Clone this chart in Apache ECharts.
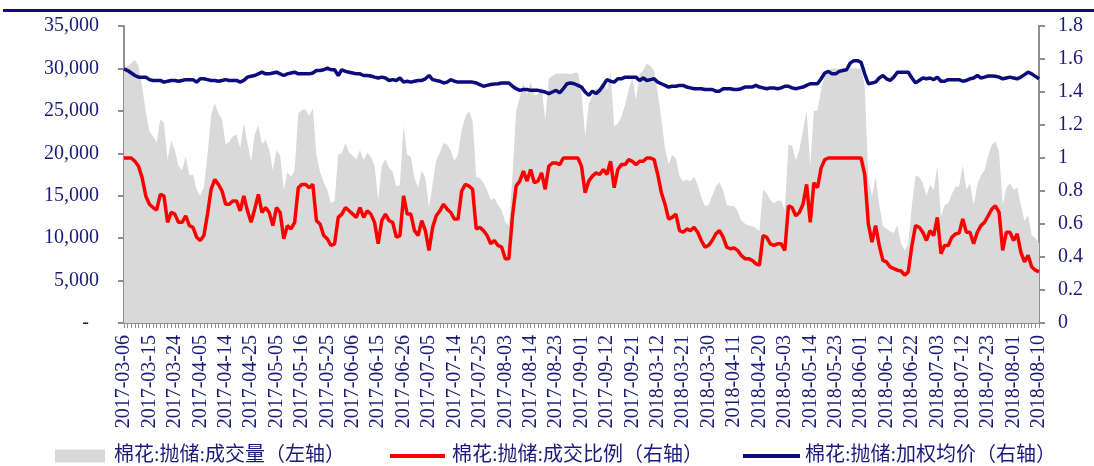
<!DOCTYPE html>
<html lang="zh">
<head>
<meta charset="UTF-8">
<title>棉花抛储</title>
<script src="https://cdn.jsdelivr.net/npm/echarts@6/dist/echarts.min.js"></script>
<style>
html, body { margin: 0; padding: 0; background: #fff; }
#main { width: 1094px; height: 466px; }
</style>
</head>
<body>
<div id="main"></div>
<script>
// 坐标轴上显示的日期（每7个交易日一个）
var tickDates = [
    '2017-03-06', '2017-03-15', '2017-03-24', '2017-04-05', '2017-04-14', '2017-04-25',
    '2017-05-05', '2017-05-16', '2017-05-25', '2017-06-06', '2017-06-15', '2017-06-26',
    '2017-07-05', '2017-07-14', '2017-07-25', '2017-08-03', '2017-08-14', '2017-08-23',
    '2017-09-01', '2017-09-12', '2017-09-21', '2018-03-12', '2018-03-21', '2018-03-30',
    '2018-04-11', '2018-04-20', '2018-05-03', '2018-05-14', '2018-05-23', '2018-06-01',
    '2018-06-12', '2018-06-22', '2018-07-03', '2018-07-12', '2018-07-23', '2018-08-01',
    '2018-08-10'
];

// 成交量（吨，左轴）
var volume = [
    30000, 30300, 30600, 31000, 30300, 27900, 24900, 22600, 22000, 21300,
    24000, 23600, 19200, 21500, 20400, 18500, 18000, 19600, 17400, 17500,
    15700, 15000, 16000, 19800, 24500, 25900, 24700, 24000, 21000, 21400,
    22000, 22200, 20600, 23600, 21200, 19000, 22200, 23300, 21100, 21600,
    20400, 18000, 20400, 19700, 15700, 17800, 17200, 18000, 24700, 25100,
    25200, 24400, 25300, 19800, 17800, 16600, 15700, 14100, 14400, 19800,
    20000, 21200, 20100, 19700, 19300, 20400, 19200, 20100, 19600, 18600,
    14500, 18500, 19300, 18300, 17800, 16100, 16300, 23300, 19800, 19600,
    17100, 15900, 18000, 17100, 13600, 16400, 19200, 20100, 21200, 21000,
    20300, 19100, 19900, 22700, 24300, 25000, 23800, 17200, 17100, 16500,
    15600, 14500, 14700, 13900, 13300, 11900, 11500, 17400, 24900, 26600,
    28300, 26900, 28400, 26800, 27000, 27900, 23900, 28800, 29100, 29400,
    29400, 29400, 29400, 29300, 29500, 29500, 27200, 22000, 25800, 26800,
    27700, 27500, 28600, 27500, 29600, 23200, 23500, 24300, 25700, 27500,
    28900, 26300, 29300, 29800, 30600, 30300, 29700, 27100, 24000, 20600,
    18700, 19800, 19400, 17300, 16700, 16900, 16700, 17200, 16300, 14800,
    13800, 13900, 15000, 16100, 16600, 15600, 13900, 13800, 13800, 13200,
    12100, 11700, 11500, 11400, 11200, 10800, 15700, 15300, 14500, 14100,
    14400, 14400, 13300, 21000, 20900, 19200, 20400, 22700, 25100, 18500,
    25000, 25000, 27500, 29100, 29800, 30000, 30000, 30000, 30000, 30000,
    30000, 30000, 30000, 30000, 28000, 17000, 14900, 17300, 13900, 11400,
    11100, 10800, 10600, 11500, 9400, 8500, 9300, 13900, 17400, 17200,
    16500, 15000, 16300, 15700, 18500, 12500, 13900, 14100, 15200, 16100,
    16100, 18600, 15700, 16500, 13900, 16300, 17400, 18000, 19700, 21000,
    21400, 20200, 13900, 15900, 16500, 15700, 16000, 13900, 12000, 12700,
    10300, 10000, 9400
];

// 成交比例（右轴）
var ratio = [
    1.0, 1.0, 1.0, 0.98, 0.95, 0.88, 0.77, 0.72, 0.70, 0.685,
    0.78, 0.77, 0.61, 0.67, 0.66, 0.61, 0.61, 0.65, 0.59, 0.58,
    0.52, 0.50, 0.53, 0.66, 0.81, 0.87, 0.84, 0.80, 0.72, 0.72,
    0.74, 0.74, 0.68, 0.77, 0.68, 0.61, 0.69, 0.78, 0.67, 0.70,
    0.67, 0.59, 0.70, 0.67, 0.51, 0.59, 0.57, 0.61, 0.82, 0.84,
    0.84, 0.82, 0.84, 0.62, 0.60, 0.53, 0.51, 0.47, 0.48, 0.64,
    0.66, 0.70, 0.68, 0.66, 0.64, 0.70, 0.64, 0.68, 0.66, 0.61,
    0.48, 0.62, 0.66, 0.62, 0.61, 0.52, 0.53, 0.77, 0.66, 0.66,
    0.56, 0.53, 0.62, 0.56, 0.44, 0.58, 0.65, 0.68, 0.72, 0.69,
    0.67, 0.63, 0.63, 0.80, 0.84, 0.83, 0.81, 0.57, 0.58, 0.56,
    0.53, 0.48, 0.50, 0.47, 0.46, 0.39, 0.39, 0.65, 0.83, 0.86,
    0.92, 0.86, 0.93, 0.85, 0.86, 0.91, 0.81, 0.95, 0.97, 0.97,
    0.96, 1.0, 1.0, 1.0, 1.0, 1.0, 0.95, 0.79, 0.86, 0.89,
    0.91, 0.90, 0.93, 0.90, 0.98, 0.82, 0.93, 0.96, 0.96, 0.99,
    0.98, 0.96, 0.98, 0.98, 1.0, 1.0, 0.99, 0.90, 0.79, 0.72,
    0.63, 0.64, 0.66, 0.56, 0.55, 0.57, 0.56, 0.58, 0.55, 0.50,
    0.46, 0.47, 0.50, 0.54, 0.56, 0.52, 0.46, 0.45, 0.455, 0.44,
    0.41, 0.39, 0.39, 0.38, 0.36, 0.35, 0.53, 0.52, 0.48, 0.47,
    0.48, 0.48, 0.44, 0.71, 0.70, 0.65, 0.67, 0.72, 0.84, 0.61,
    0.85, 0.82, 0.94, 0.99, 1.0, 1.0, 1.0, 1.0, 1.0, 1.0,
    1.0, 1.0, 1.0, 1.0, 0.90, 0.60, 0.49, 0.59, 0.47, 0.38,
    0.37, 0.34, 0.33, 0.32, 0.315, 0.29, 0.31, 0.47, 0.59, 0.58,
    0.55, 0.50, 0.56, 0.53, 0.64, 0.42, 0.47, 0.47, 0.52, 0.54,
    0.545, 0.63, 0.55, 0.55, 0.48, 0.55, 0.59, 0.61, 0.65, 0.69,
    0.71, 0.67, 0.44, 0.55, 0.55, 0.50, 0.54, 0.43, 0.37, 0.41,
    0.34, 0.32, 0.31
];

// 加权均价（万元/吨，右轴）
var price = [
    1.54, 1.53, 1.515, 1.50, 1.49, 1.49, 1.49, 1.475, 1.47, 1.47,
    1.47, 1.46, 1.465, 1.47, 1.47, 1.465, 1.47, 1.475, 1.475, 1.475,
    1.46, 1.48, 1.48, 1.475, 1.47, 1.47, 1.465, 1.47, 1.475, 1.47,
    1.47, 1.47, 1.46, 1.47, 1.49, 1.495, 1.50, 1.51, 1.52, 1.51,
    1.51, 1.515, 1.52, 1.51, 1.50, 1.51, 1.515, 1.52, 1.51, 1.51,
    1.51, 1.51, 1.515, 1.53, 1.53, 1.535, 1.545, 1.535, 1.535, 1.50,
    1.535, 1.525, 1.52, 1.515, 1.51, 1.51, 1.50, 1.50, 1.497, 1.49,
    1.485, 1.49, 1.485, 1.47, 1.475, 1.47, 1.485, 1.46, 1.465, 1.46,
    1.465, 1.47, 1.47, 1.48, 1.50, 1.475, 1.47, 1.465, 1.455, 1.46,
    1.475, 1.465, 1.46, 1.46, 1.46, 1.46, 1.46, 1.455, 1.445, 1.435,
    1.44, 1.445, 1.448, 1.45, 1.455, 1.455, 1.455, 1.435, 1.42, 1.41,
    1.415, 1.415, 1.41, 1.41, 1.41, 1.405, 1.40, 1.39, 1.40, 1.41,
    1.395, 1.42, 1.45, 1.455, 1.45, 1.44, 1.43, 1.40, 1.38, 1.405,
    1.39, 1.41, 1.44, 1.475, 1.465, 1.46, 1.48, 1.48, 1.49, 1.49,
    1.49, 1.49, 1.47, 1.485, 1.47, 1.475, 1.48, 1.46, 1.45, 1.44,
    1.43, 1.435, 1.435, 1.44, 1.44, 1.43, 1.425, 1.42, 1.42, 1.42,
    1.415, 1.415, 1.415, 1.405, 1.405, 1.42, 1.42, 1.42, 1.415, 1.415,
    1.42, 1.43, 1.43, 1.43, 1.44, 1.43, 1.425, 1.42, 1.425, 1.425,
    1.42, 1.425, 1.435, 1.435, 1.425, 1.42, 1.425, 1.43, 1.44, 1.45,
    1.45, 1.45, 1.48, 1.515, 1.525, 1.51, 1.51, 1.525, 1.53, 1.535,
    1.575, 1.59, 1.59, 1.58, 1.51, 1.45, 1.455, 1.46, 1.485, 1.50,
    1.48, 1.47, 1.49, 1.52, 1.52, 1.52, 1.52, 1.485, 1.455, 1.47,
    1.485, 1.48, 1.485, 1.475, 1.49, 1.465, 1.465, 1.475, 1.475, 1.475,
    1.475, 1.465, 1.47, 1.48, 1.485, 1.50, 1.485, 1.49, 1.497, 1.497,
    1.495, 1.49, 1.48, 1.485, 1.49, 1.485, 1.48, 1.49, 1.505, 1.52,
    1.51, 1.495, 1.48
];

// 每个刻度日期后补6个工作日，得到完整的类目
function pad(n) { return n < 10 ? '0' + n : '' + n; }
function fmt(d) { return d.getUTCFullYear() + '-' + pad(d.getUTCMonth() + 1) + '-' + pad(d.getUTCDate()); }
var dates = [];
for (var k = 0; k < tickDates.length; k++) {
    dates.push(tickDates[k]);
    if (k === tickDates.length - 1) break;
    var p = tickDates[k].split('-');
    var d = new Date(Date.UTC(+p[0], +p[1] - 1, +p[2]));
    var n = 0;
    while (n < 6) {
        d = new Date(d.getTime() + 24 * 3600 * 1000);
        var wd = d.getUTCDay();
        if (wd === 0 || wd === 6) continue;
        dates.push(fmt(d));
        n++;
    }
}

var navy = '#1a1a78';
var serif = '"Liberation Serif", "Times New Roman", serif';
var legendFont = '"Liberation Serif", "Noto Sans CJK SC", serif';

var myChart = echarts.init(document.getElementById('main'));
var option = {
    animation: false,
    backgroundColor: '#fff',
    graphic: [{
        type: 'line',
        shape: { x1: 3, y1: 10.5, x2: 1094, y2: 10.5 },
        style: { stroke: '#100c7e', lineWidth: 3 }
    }],
    grid: { left: 124, right: 55, top: 26, bottom: 143 },
    legend: [{
        left: 50, top: 441, icon: 'rect', itemWidth: 50, itemHeight: 13,
        textStyle: { color: navy, fontSize: 20, fontFamily: legendFont, padding: [0, 0, 0, 4] },
        data: ['棉花:抛储:成交量（左轴）']
    }, {
        left: 385, top: 441, icon: 'rect', itemWidth: 55, itemHeight: 4,
        textStyle: { color: navy, fontSize: 20, fontFamily: legendFont, padding: [0, 0, 0, 2] },
        data: ['棉花:抛储:成交比例（右轴）']
    }, {
        left: 738, top: 441, icon: 'rect', itemWidth: 57, itemHeight: 4,
        textStyle: { color: navy, fontSize: 20, fontFamily: legendFont },
        data: ['棉花:抛储:加权均价（右轴）']
    }],
    xAxis: {
        type: 'category',
        boundaryGap: false,
        data: dates,
        axisLine: { lineStyle: { color: '#8f8f8f', width: 2 } },
        axisTick: { interval: 0, length: 5, lineStyle: { color: '#8f8f8f' } },
        axisLabel: {
            interval: 6, rotate: 90, margin: 12,
            color: navy, fontSize: 20, fontFamily: serif
        }
    },
    yAxis: [{
        type: 'value',
        min: 0, max: 35000, interval: 5000,
        splitLine: { show: false },
        axisLine: { show: true, lineStyle: { color: '#8f8f8f', width: 2 } },
        axisTick: { show: true, length: 6, lineStyle: { color: '#8f8f8f', width: 2 } },
        axisLabel: {
            margin: 25, color: navy, fontSize: 20, fontFamily: serif,
            formatter: function (v) {
                if (v === 0) return '-  ';
                return String(v).replace(/\B(?=(\d{3})+(?!\d))/g, ',');
            }
        }
    }, {
        type: 'value',
        min: 0, max: 1.8, interval: 0.2,
        splitLine: { show: false },
        axisLine: { show: true, lineStyle: { color: '#8f8f8f', width: 2 } },
        axisTick: { show: true, length: 6, lineStyle: { color: '#8f8f8f', width: 2 } },
        axisLabel: { margin: 19, color: navy, fontSize: 20, fontFamily: serif }
    }],
    series: [{
        name: '棉花:抛储:成交量（左轴）',
        type: 'line',
        yAxisIndex: 0,
        symbol: 'none',
        itemStyle: { color: '#d9d9d9' },
        lineStyle: { width: 0 },
        areaStyle: { color: '#d9d9d9', opacity: 1 },
        data: volume
    }, {
        name: '棉花:抛储:成交比例（右轴）',
        type: 'line',
        yAxisIndex: 1,
        symbol: 'none',
        itemStyle: { color: '#ff0000' },
        lineStyle: { color: '#ff0000', width: 3.5 },
        data: ratio
    }, {
        name: '棉花:抛储:加权均价（右轴）',
        type: 'line',
        yAxisIndex: 1,
        symbol: 'none',
        itemStyle: { color: '#0c0c7c' },
        lineStyle: { color: '#0c0c7c', width: 3.5 },
        data: price
    }]
};
myChart.setOption(option);
</script>
</body>
</html>
